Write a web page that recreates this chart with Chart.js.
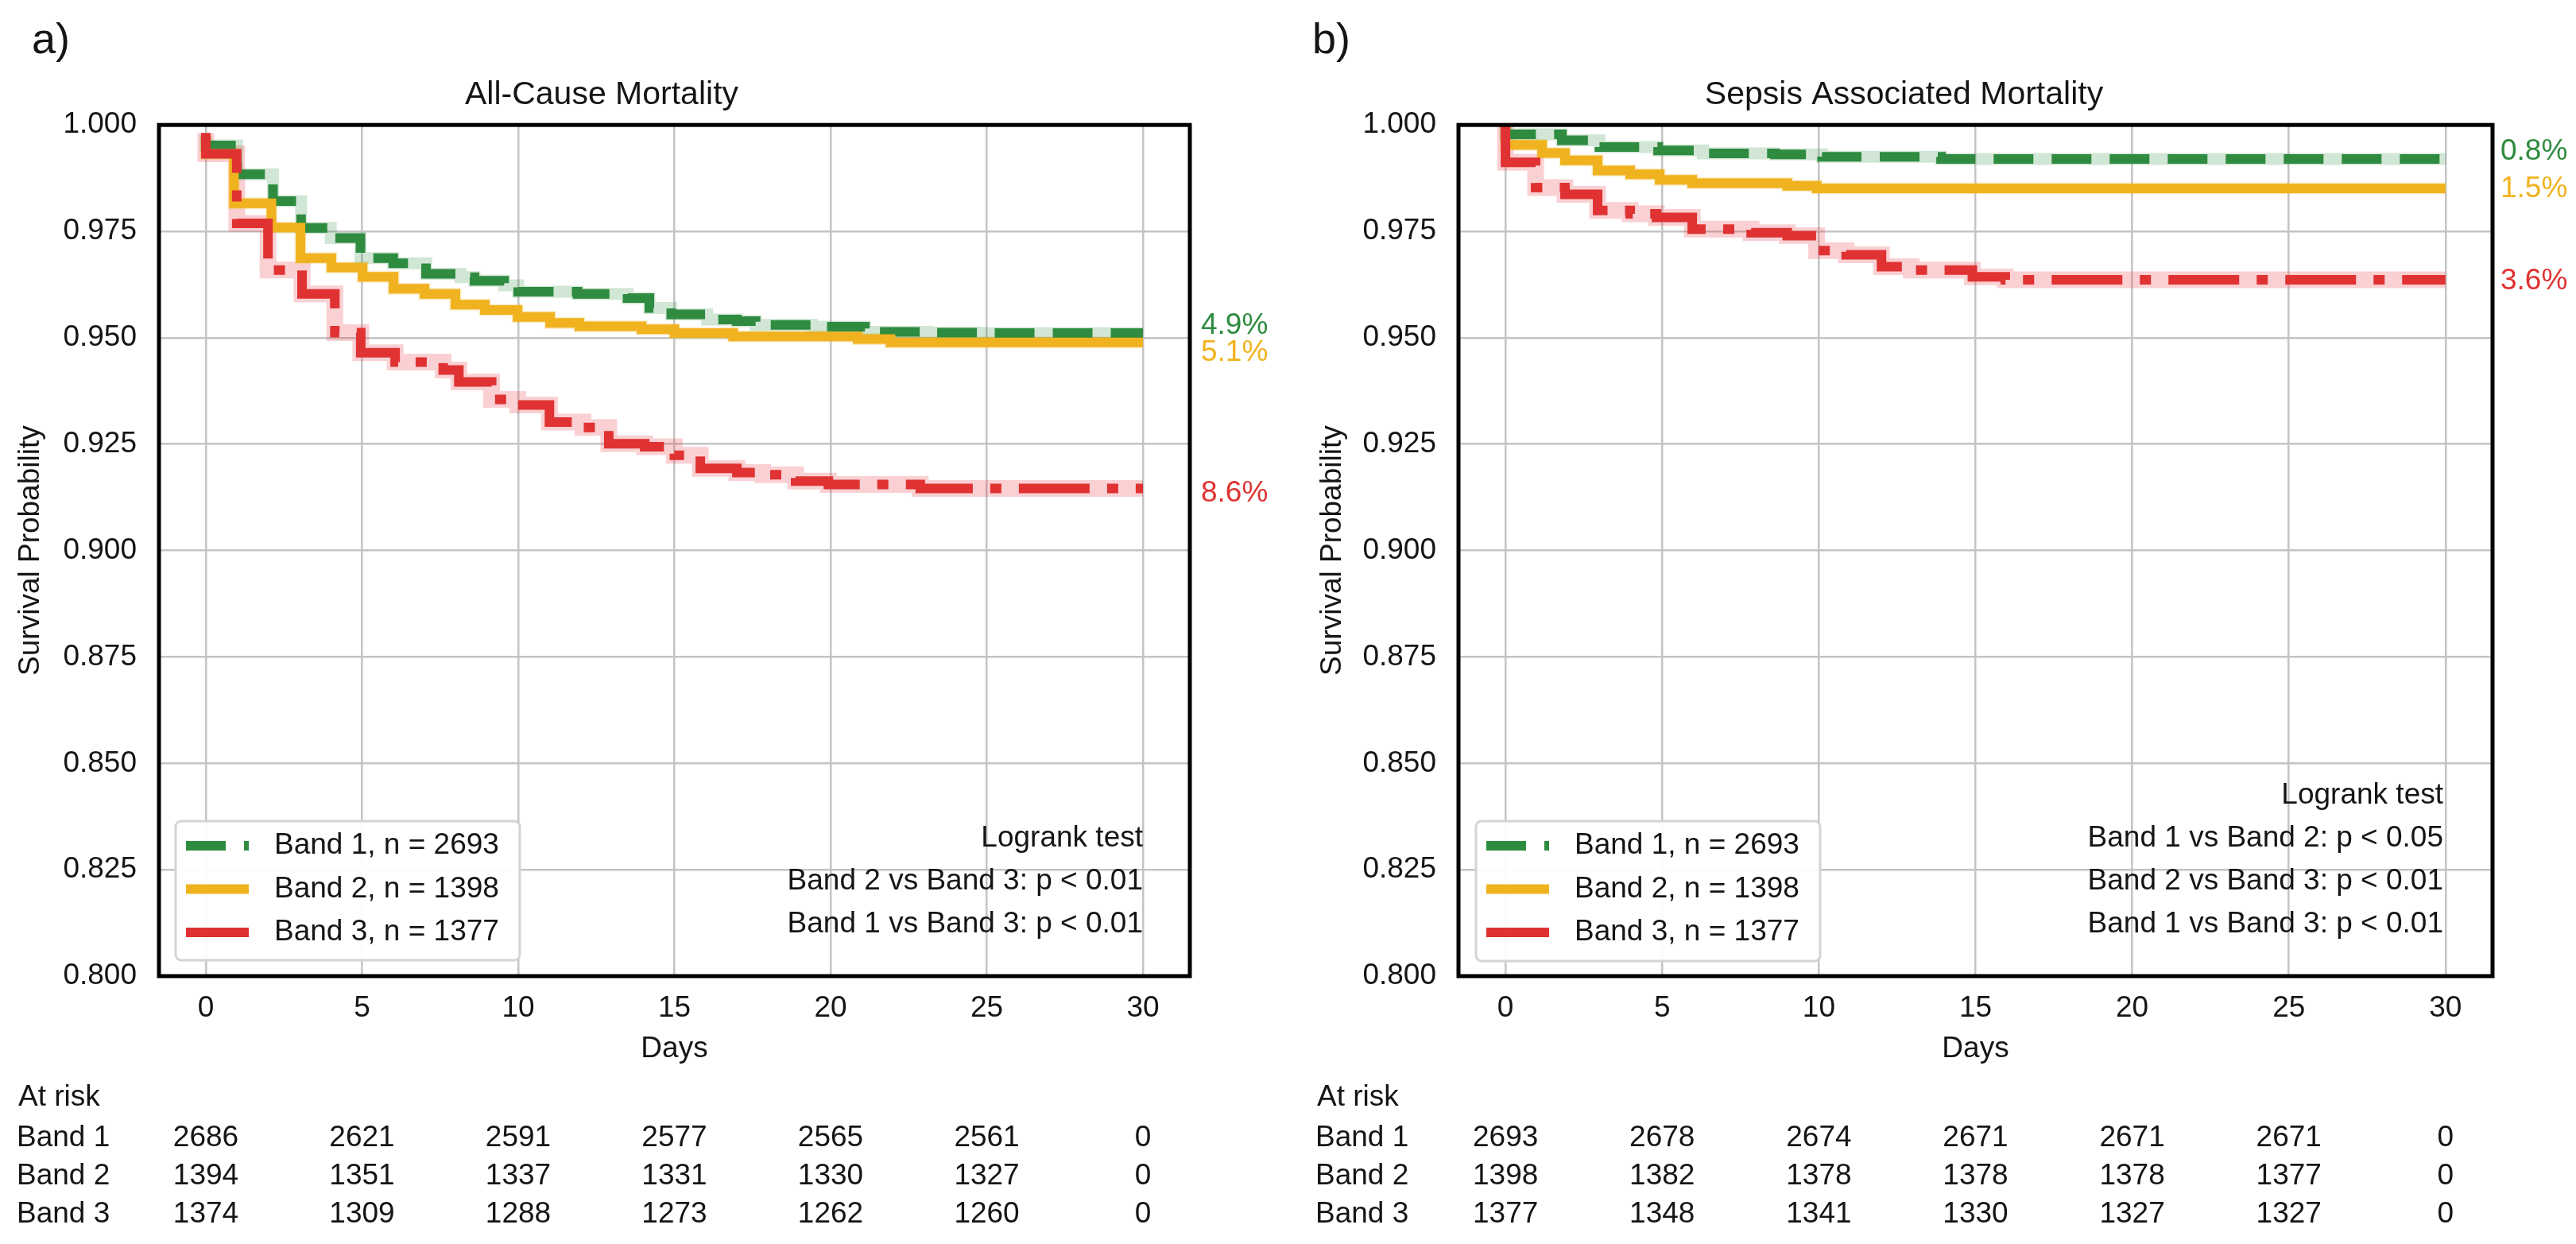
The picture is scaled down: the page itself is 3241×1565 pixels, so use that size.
<!DOCTYPE html>
<html>
<head>
<meta charset="utf-8">
<script src="https://cdn.jsdelivr.net/npm/chart.js@4.4.1/dist/chart.umd.min.js"></script>
<style>
  html, body { margin: 0; padding: 0; background: #fff; }
  #wrap { position: relative; width: 3241px; height: 1565px; }
  canvas { position: absolute; top: 0; }
</style>
</head>
<body>
<div id="wrap">
  <canvas id="chartA" width="1620" height="1565" style="left:0"></canvas>
  <canvas id="chartB" width="1621" height="1565" style="left:1620px"></canvas>
</div>
<script>
// ---- data ----
const bandNames = ['Band 1', 'Band 2', 'Band 3']
const bandN = [2693, 1398, 1377]
const xTicks = [0, 5, 10, 15, 20, 25, 30]
const yTicks = [0.8, 0.825, 0.85, 0.875, 0.9, 0.925, 0.95, 0.975, 1.0]

// a) all-cause mortality, Kaplan-Meier steps (day, survival)
const acDays1 = [0, 1.0, 2.15, 3.05, 4.0, 4.95, 6.0, 7.05, 8.15, 8.6, 9.55, 10.0, 11.9, 13.5, 14.2, 14.9, 16.05, 17.0, 17.6, 19.4, 21.1, 23.1, 24.7, 28.3, 30]
const acSurv1 = [0.9975, 0.9952, 0.9884, 0.9821, 0.9758, 0.9734, 0.9687, 0.9675, 0.9650, 0.9642, 0.9634, 0.9623, 0.9608, 0.9603, 0.9593, 0.9570, 0.9555, 0.9543, 0.9539, 0.9530, 0.9526, 0.9514, 0.9512, 0.9511, 0.9511]
const acDays2 = [0, 0.9, 2.1, 3.03, 4.02, 5.02, 6.01, 7.0, 7.99, 8.93, 9.98, 11.02, 11.96, 13.95, 15.0, 16.88, 20.87, 21.92, 23.91, 30]
const acSurv2 = [0.9973, 0.9932, 0.9816, 0.9759, 0.9687, 0.9665, 0.9643, 0.9615, 0.9603, 0.9578, 0.9565, 0.9549, 0.9535, 0.9527, 0.9520, 0.9511, 0.9503, 0.9497, 0.9489, 0.9489]
const acDays3 = [0, 0.99, 1.99, 3.08, 4.13, 4.96, 6.06, 7.6, 8.1, 9.15, 9.98, 11.0, 12.07, 12.9, 14.05, 15.0, 15.83, 17.0, 17.83, 18.88, 19.93, 22.87, 24.0, 30]
const acSurv3 = [0.9981, 0.9932, 0.9769, 0.9659, 0.9603, 0.9512, 0.9465, 0.9443, 0.9424, 0.9396, 0.9355, 0.9342, 0.9302, 0.9289, 0.9251, 0.9244, 0.9224, 0.9193, 0.9183, 0.9178, 0.9163, 0.9155, 0.9146, 0.9146]
const acAtRisk1 = [2686, 2621, 2591, 2577, 2565, 2561, 0]
const acAtRisk2 = [1394, 1351, 1337, 1331, 1330, 1327, 0]
const acAtRisk3 = [1374, 1309, 1288, 1273, 1262, 1260, 0]
const acPct = ['4.9%', '5.1%', '8.6%']
const acLogrank = ['Logrank test', 'Band 2 vs Band 3: p < 0.01', 'Band 1 vs Band 3: p < 0.01']

// b) sepsis associated mortality
const sepDays1 = [0, 1.8, 3.0, 4.87, 6.3, 8.6, 10.1, 13.9, 15.0, 30]
const sepSurv1 = [1.0, 0.9978, 0.9964, 0.9948, 0.9940, 0.9933, 0.9931, 0.9925, 0.9920, 0.9920]
const sepDays2 = [0, 1.17, 1.9, 2.94, 3.98, 4.92, 5.96, 8.99, 9.93, 20.9, 30]
const sepSurv2 = [1.0, 0.9953, 0.9934, 0.9917, 0.9893, 0.9884, 0.9871, 0.9863, 0.9857, 0.9851, 0.9851]
const sepDays3 = [0, 0.96, 1.9, 2.94, 3.98, 4.82, 5.96, 7.84, 8.99, 9.93, 10.87, 12.0, 12.95, 14.9, 15.95, 18.87, 30]
const sepSurv3 = [1.0, 0.9912, 0.9853, 0.9837, 0.9799, 0.9791, 0.9783, 0.9755, 0.9747, 0.9740, 0.9705, 0.9695, 0.9667, 0.9659, 0.9643, 0.9636, 0.9636]
const sepAtRisk1 = [2693, 2678, 2674, 2671, 2671, 2671, 0]
const sepAtRisk2 = [1398, 1382, 1378, 1378, 1378, 1377, 0]
const sepAtRisk3 = [1377, 1348, 1341, 1330, 1327, 1327, 0]
const sepPct = ['0.8%', '1.5%', '3.6%']
const sepLogrank = ['Logrank test', 'Band 1 vs Band 2: p < 0.05', 'Band 2 vs Band 3: p < 0.01', 'Band 1 vs Band 3: p < 0.01']

// ---- styles ----
const FONT = "'Liberation Sans', Arial, Helvetica, sans-serif"
const TEXT = '#151515'
const GRID = '#c4c4c4'
const styles = [
  {color: '#2e8b3f', band: 'rgba(46,139,63,0.22)', dash: [50, 23], bandWidth: 15},
  {color: '#f0b21e', band: 'rgba(240,178,30,0.25)', dash: [], bandWidth: 15},
  {color: '#e03232', band: 'rgba(235,60,70,0.24)', dash: [89, 22, 14, 22], bandWidth: 21}
]
Chart.defaults.font.family = FONT
Chart.defaults.color = TEXT

const f = size => `${size}px ${FONT}`

function kmDatasets(days, surv) {
  const out = []
  days.forEach((d, i) => {
    const pts = d.map((x, j) => ({x: x, y: surv[i][j]}))
    const st = styles[i]
    out.push({label: `${bandNames[i]}, n = ${bandN[i]}`, data: pts, borderColor: st.color,
      borderWidth: 12, borderDash: st.dash, stepped: 'after', pointRadius: 0, order: 3 - i, fill: false})
    out.push({label: bandNames[i] + ' CI', data: pts, borderColor: st.band, borderWidth: st.bandWidth,
      stepped: 'after', pointRadius: 0, order: 10, fill: false, isBand: true})
  })
  return out
}

function makeDecor(p) {
  return {
    id: 'kmDecor',
    afterDraw(chart) {
      const {ctx, chartArea: a, scales: {x, y}} = chart
      const lines = chart.data.datasets.filter(d => !d.isBand)
      ctx.save()
      // frame
      ctx.strokeStyle = '#000'
      ctx.lineWidth = 5
      ctx.setLineDash([])
      ctx.strokeRect(a.left, a.top, a.right - a.left, a.bottom - a.top)

      // panel letter
      ctx.fillStyle = TEXT
      ctx.font = f(54)
      ctx.textAlign = 'left'
      ctx.textBaseline = 'alphabetic'
      ctx.fillText(p.letter, p.letterX, 67)

      // cumulative mortality at the end of each curve
      ctx.font = f(37)
      ctx.textBaseline = 'middle'
      lines.forEach((ds, i) => {
        const last = ds.data[ds.data.length - 1].y
        ctx.fillStyle = ds.borderColor
        ctx.fillText(p.pct[i], a.right + p.pctGap, y.getPixelForValue(last) + p.pctNudge[i])
      })

      // legend
      const L = p.legend
      ctx.beginPath()
      ctx.roundRect(L.left, L.top, L.width, L.height, 7)
      ctx.fillStyle = 'rgba(255,255,255,0.92)'
      ctx.fill()
      ctx.strokeStyle = '#d4d4d4'
      ctx.lineWidth = 3
      ctx.stroke()
      lines.forEach((ds, i) => {
        const cy = L.top + 31 + i * 54.5
        ctx.beginPath()
        ctx.setLineDash(ds.borderDash || [])
        ctx.strokeStyle = ds.borderColor
        ctx.lineWidth = 12
        ctx.moveTo(L.left + 13, cy)
        ctx.lineTo(L.left + 92, cy)
        ctx.stroke()
        ctx.setLineDash([])
        ctx.fillStyle = TEXT
        ctx.textAlign = 'left'
        ctx.fillText(ds.label, L.left + 124, cy)
      })

      // logrank results
      ctx.textAlign = 'right'
      p.logrank.forEach((t, i) => {
        ctx.fillText(t, p.logrankX, 1163 - (p.logrank.length - 1 - i) * 54)
      })

      // numbers at risk
      ctx.textBaseline = 'alphabetic'
      ctx.textAlign = 'left'
      ctx.fillText('At risk', p.tableX + 2, 1391)
      const rowY = [1442, 1490, 1538]
      p.atRisk.forEach((row, r) => {
        ctx.textAlign = 'left'
        ctx.fillText(bandNames[r], p.tableX, rowY[r])
        ctx.textAlign = 'center'
        row.forEach((v, c) => ctx.fillText(String(v), x.getPixelForValue(xTicks[c]), rowY[r]))
      })
      ctx.restore()
    }
  }
}

function kmChart(canvasId, title, datasets, p) {
  const H = 1565
  return new Chart(document.getElementById(canvasId), {
    type: 'line',
    data: {datasets: datasets},
    options: {
      responsive: false,
      animation: false,
      devicePixelRatio: 1,
      layout: {padding: {left: p.padLeft, right: p.padRight, top: 0, bottom: 0}},
      plugins: {
        legend: {display: false},
        tooltip: {enabled: false},
        title: {display: true, text: title, color: TEXT, font: {size: 41, weight: 'normal'},
          padding: {top: 95, bottom: 13}}
      },
      scales: {
        x: {
          type: 'linear', min: -1.5, max: 31.5,
          afterBuildTicks: s => { s.ticks = xTicks.map(v => ({value: v})) },
          afterFit: s => { s.height = H - 1228 },
          grid: {color: GRID, lineWidth: 2.5, drawTicks: false},
          border: {display: false},
          ticks: {font: {size: 37}, color: TEXT, padding: 19, maxRotation: 0},
          title: {display: true, text: 'Days', font: {size: 37}, color: TEXT, padding: {top: 0, bottom: 223}}
        },
        y: {
          type: 'linear', min: 0.8, max: 1.0,
          afterBuildTicks: s => { s.ticks = yTicks.map(v => ({value: v})) },
          afterFit: s => { s.width = p.plotLeft - p.padLeft },
          grid: {color: GRID, lineWidth: 2.5, drawTicks: false},
          border: {display: false},
          ticks: {font: {size: 37}, color: TEXT, padding: 28, callback: v => Number(v).toFixed(3)},
          title: {display: true, text: 'Survival Probability', font: {size: 37}, color: TEXT, padding: 0}
        }
      }
    },
    plugins: [makeDecor(p)]
  })
}

kmChart('chartA', 'All-Cause Mortality',
  kmDatasets([acDays1, acDays2, acDays3], [acSurv1, acSurv2, acSurv3]),
  {letter: 'a)', letterX: 40, padLeft: 17, plotLeft: 200, padRight: 123,
   pct: acPct, pctGap: 14, pctNudge: [-9, 13, 6],
   legend: {left: 221, top: 1033, width: 433, height: 175},
   logrank: acLogrank, logrankX: 1438,
   atRisk: [acAtRisk1, acAtRisk2, acAtRisk3], tableX: 21})

kmChart('chartB', 'Sepsis Associated Mortality',
  kmDatasets([sepDays1, sepDays2, sepDays3], [sepSurv1, sepSurv2, sepSurv3]),
  {letter: 'b)', letterX: 31, padLeft: 35, plotLeft: 215, padRight: 105,
   pct: sepPct, pctGap: 10, pctNudge: [-9, 1, 2],
   legend: {left: 237, top: 1033, width: 433, height: 176},
   logrank: sepLogrank, logrankX: 1454,
   atRisk: [sepAtRisk1, sepAtRisk2, sepAtRisk3], tableX: 35})
</script>
</body>
</html>
